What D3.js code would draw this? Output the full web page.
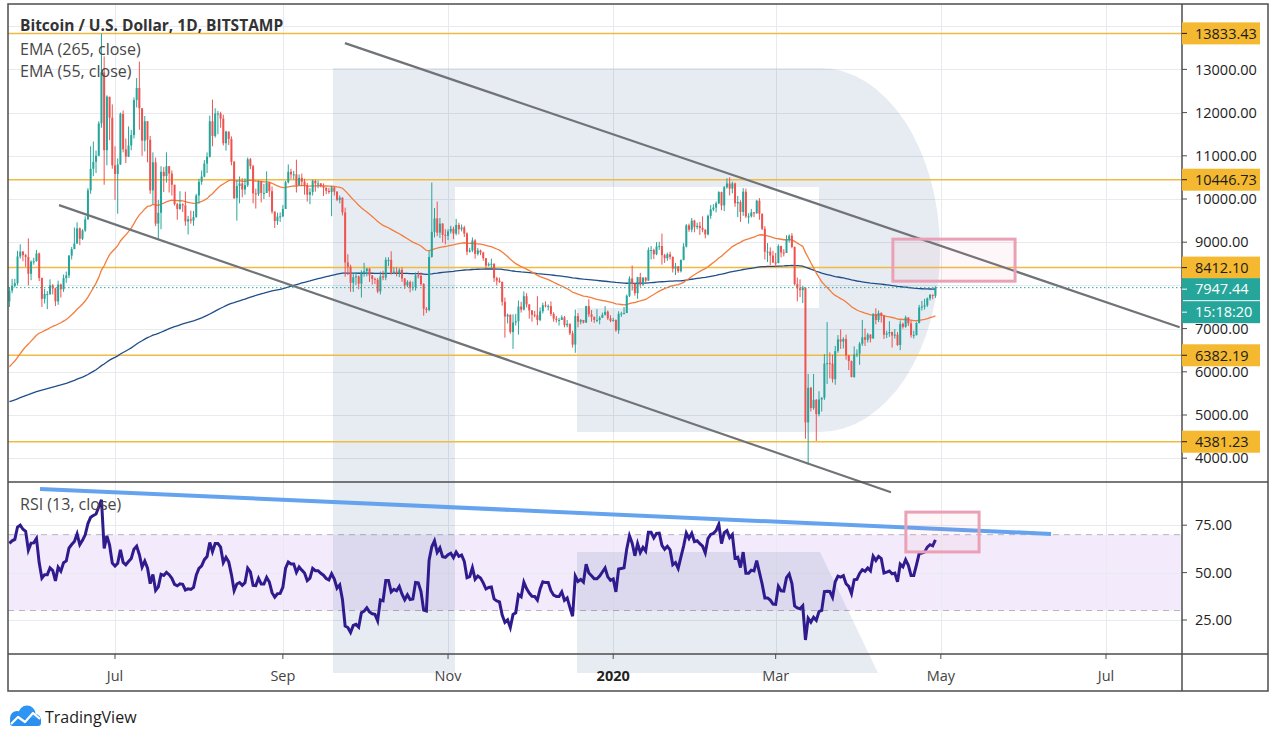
<!DOCTYPE html>
<html><head><meta charset="utf-8">
<script src="https://cdn.jsdelivr.net/npm/d3@7"></script>
<style>
body{margin:0;background:#fff;}
svg{display:block;}
text{font-family:"Open Sans","Noto Sans",sans-serif;}
</style>
</head><body>
<svg id="c" width="1277" height="740"></svg>
<script>
// ---------------- DATA ----------------
const startDate = "2019-05-23";   // first daily candle
const prevClose = 7630;           // close of the day before the first candle
const closes = [
 7880,7990,8050,8670,8780,8700,8660,8270,8550,
 8560,8740,8170,7690,7800,7800,8000,7930,7630,8020,7910,8170,8230,8690,8840,8970,9320,9080,9270,9530,10200,10700,10860,11000,11750,12930,11130,12370,11880,10780,
 10580,10800,11970,11150,10980,11240,11480,12290,12570,12100,11350,11800,11370,10200,10850,9430,9680,10630,10530,10760,10590,10330,9880,9770,9880,9850,9480,9530,9500,9580,10080,
 10400,10520,10820,10980,11800,11460,11980,11980,11860,11290,11560,11390,10860,10020,10300,10360,10220,10320,10920,10760,10130,10120,10400,10140,10140,10370,10180,9710,9490,9590,9600,
 9770,10390,10630,10570,10570,10320,10490,10400,10320,10100,10160,10420,10360,10360,10300,10260,10190,10160,10270,10170,9980,10030,9690,8530,8430,8060,8190,8210,8040,8300,
 8330,8390,8230,8150,8130,7860,8210,8180,8590,8590,8270,8320,8280,8360,8160,8000,8080,7950,7960,8230,8220,8030,7460,7430,8660,9240,9550,9220,9430,9170,9150,
 9250,9310,9200,9400,9300,9340,9200,8780,8810,9040,8730,8810,8760,8630,8460,8490,8500,8170,8110,8080,7620,7280,7320,6920,7140,7170,7510,7440,7750,7560,
 7420,7320,7310,7200,7400,7540,7520,7520,7340,7230,7200,7200,7260,7080,7110,6890,6630,7290,7160,7200,7140,7520,7330,7270,7200,7200,7250,7320,7390,7240,7180,
 7200,6960,7340,7350,7360,7760,8160,8040,7820,8190,8020,8180,8110,8820,8820,8720,8900,8910,8700,8630,8720,8660,8390,8440,8330,8590,8900,9390,9290,9500,9350,
 9380,9330,9290,9180,9610,9760,9800,9900,10160,9850,10270,10360,10240,10360,9900,9930,9700,10170,9600,9600,9690,9670,9960,9660,9310,8780,8780,8690,8530,
 8520,8910,8760,8750,9060,9150,8890,8030,7930,7890,7950,4830,5630,5160,5350,5020,5360,5400,6190,6200,6190,5830,6480,6750,6700,6760,6380,6250,5880,6400,6420,
 6650,6800,6740,6860,6770,7330,7200,7360,7300,6860,6890,6920,6840,6860,6620,7110,7040,7260,7120,6850,6850,7130,7490,7510,7540,7700,7780,7760,7947.44
];
const highs = [
 7960,8150,8150,8800,8950,8800,8730,9090,8580,
 8640,8820,8760,8180,7920,7870,8140,8030,7950,8110,8040,8250,8320,8700,8890,9340,9460,9340,9300,9600,10250,11220,11330,11120,11800,13833,13300,12400,12360,12190,
 11220,10940,12000,12050,11400,11680,11600,12350,12800,13180,12100,11920,11800,11460,11080,10960,9980,10760,10740,11080,10760,10660,10330,9910,10180,9900,10170,9610,9730,9720,10120,
 10470,10660,10900,11080,11930,12300,12100,12040,12020,11950,11580,11560,11450,10880,10430,10520,10480,10480,10960,10950,10790,10240,10430,10420,10350,10640,10390,10290,9710,9680,9690,
 9860,10420,10800,10700,10650,10910,10570,10590,10470,10370,10250,10450,10450,10430,10370,10360,10270,10260,10300,10280,10180,10080,10040,9800,8720,8480,8270,8310,8230,8350,
 8520,8400,8400,8240,8180,8170,8320,8340,8650,8650,8790,8420,8420,8400,8420,8170,8120,8110,8090,8300,8330,8300,8050,7500,8800,10380,9790,9940,9560,9440,9300,
 9300,9380,9360,9540,9450,9410,9380,9230,8870,9110,9070,8870,8830,8780,8630,8530,8620,8510,8200,8180,8090,7720,7350,7330,7330,7340,7650,7620,7860,7820,
 7560,7430,7410,7750,7490,7600,7630,7560,7630,7380,7290,7250,7310,7290,7200,7120,6950,7440,7360,7220,7200,7530,7680,7430,7280,7450,7290,7370,7520,7420,7310,
 7250,7210,7400,7390,7500,7790,8210,8460,8050,8200,8290,8190,8190,8880,8910,8850,9000,9010,9200,8730,8760,8780,8670,8520,8450,8600,8980,9420,9430,9560,9520,
 9450,9470,9600,9300,9640,9860,9880,9940,10180,10170,10300,10480,10500,10400,10380,10070,9970,10250,10240,9670,9770,9700,9980,10020,9660,9370,8980,8880,8800,
 8750,8950,8920,8840,9160,9180,9210,8900,8180,8140,7990,7950,5950,5650,5950,5370,5550,5410,6410,7150,6450,6400,6600,6850,6980,6800,6860,6390,6260,6590,6520,
 6690,7200,7000,6900,6870,7360,7470,7420,7380,7300,6950,7170,6930,6990,6920,7190,7140,7300,7260,7190,6950,7150,7550,7640,7690,7720,7800,7790,7980
];
const lows = [
 7500,7820,7950,8000,8620,8560,8430,8000,8120,
 8480,8550,8100,7500,7580,7450,7780,7790,7520,7550,7720,7850,8060,8170,8600,8840,8960,8930,9050,9240,9520,10120,10530,10600,10990,11650,10330,10780,11360,10700,
 9980,9660,10790,11080,10830,10970,11130,11400,12120,11600,11000,11100,10850,10120,9880,9370,9080,9300,10160,10380,10150,10080,9850,9520,9750,9700,9380,9180,9430,9380,9570,
 9890,10330,10500,10600,10960,11220,11420,11500,11650,11240,11120,11250,10780,10000,9500,9900,10040,10100,10280,10690,9900,9780,10070,9920,10000,10140,10050,9660,9330,9400,9470,
 9580,9770,10360,10460,10450,10150,10320,10300,10100,9940,9880,10080,10170,10250,10270,10070,10110,10120,9600,10080,9950,9900,9620,8200,8240,7850,7850,8010,7910,7720,
 8200,8210,8080,8020,8030,7820,7790,8120,8120,8450,8250,8260,8210,8190,8080,7920,7960,7840,7880,7880,8160,7990,7300,7360,7400,8640,9110,9140,9100,8990,8950,
 9050,9200,9070,9160,9180,9250,9120,8700,8760,8770,8620,8690,8700,8570,8390,8440,8390,8080,8000,8060,7530,6790,7120,6880,6530,7070,6860,7370,7420,7490,
 7230,7160,7260,7080,7170,7350,7490,7420,7290,7160,7140,7070,7200,7030,7030,6850,6560,6440,7030,7100,7120,7130,7270,7160,7130,7150,7100,7250,7300,7200,7150,
 7160,6930,6880,7270,7330,7360,7730,7880,7760,7690,7970,7990,8060,8110,8600,8610,8700,8820,8480,8520,8570,8600,8300,8240,8290,8300,8580,8880,9240,9230,9230,
 9300,9170,9230,9090,9160,9540,9720,9690,9880,9740,9720,10240,10080,10130,9820,9580,9470,9610,9560,9430,9570,9580,9660,9520,9280,8600,8540,8470,8520,
 8420,8510,8650,8670,8750,8990,8860,8000,7630,7730,7590,4450,3850,5080,5120,4400,4970,5080,5350,5720,5850,5750,5700,6440,6530,6540,6280,6040,5870,5860,6340,
 6160,6600,6600,6680,6680,6770,7100,7150,7140,6760,6780,6810,6560,6770,6600,6500,7000,7020,7060,6790,6770,6840,7120,7420,7440,7500,7650,7680,7710
];
// indicator seeds (values of the indicators just before the first visible candle)
const ema265Seed = 5290;
const ema55Seed = 6050;
const rsiSeedGain = 140, rsiSeedLoss = 85;

const priceTicks = [4000,5000,6000,7000,8000,9000,10000,11000,12000,13000,14000];
const priceTickLabels = ["4000.00","5000.00","6000.00","7000.00","","9000.00","10000.00","11000.00","12000.00","13000.00",""]; // 8000/14000 hidden under price tags
const rsiTicks = [25,50,75];
const timeTicks = [["2019-07-01","Jul"],["2019-09-01","Sep"],["2019-11-01","Nov"],["2020-01-01","2020"],["2020-03-01","Mar"],["2020-05-01","May"],["2020-07-01","Jul"]];
const levels = [13833.43, 10446.73, 8412.10, 6382.19, 4381.23];
const lastPrice = 7947.44;
const countdown = "15:18:20";
const channel = [
  {d1:"2019-06-10T08:00", p1:9858,  d2:"2020-04-12T14:00", p2:3213},
  {d1:"2019-09-23T22:00", p1:13609, d2:"2020-07-28T05:00", p2:7033}
];
const priceZone = {d1:"2020-04-13T07:00", d2:"2020-05-28T10:00", p1:9071, p2:8098};
const rsiTrend = {d1:"2019-06-03T07:00", v1:94.1, d2:"2020-06-10T17:00", v2:70.4};
const rsiZone = {d1:"2020-04-18T02:00", d2:"2020-05-15T03:00", v1:81.9, v2:60.9};

// ---------------- SCALES ----------------
const W = 1277, H = 740;
const L = 8, R = 1182, AX = 1268, TOP = 4, PB = 482, RB = 654, BOT = 691;
const x = d3.scaleUtc().domain([new Date(Date.UTC(2019,6,1)), new Date(Date.UTC(2020,6,1))]).range([115, 1106]);
const y = d3.scaleLinear().domain([4000, 13000]).range([458.2, 69.4]);
const yr = d3.scaleLinear().domain([0, 100]).range([667.4, 477.8]);
const pd = s => new Date(s.length > 10 ? s + "Z" : s + "T00:00Z");

const t0 = pd(startDate);
const bars = closes.map((c, i) => ({
  d: d3.utcDay.offset(t0, i),
  o: i === 0 ? prevClose : closes[i-1],
  c: c, h: highs[i], l: lows[i]
}));
// indicators
function ema(seed, n){ const a = 2/(n+1); let e = seed; return closes.map(c => (e = a*c + (1-a)*e)); }
const e265 = ema(ema265Seed, 265), e55 = ema(ema55Seed, 55);
let ag = rsiSeedGain, al = rsiSeedLoss;
const rsi = closes.map((c, i) => {
  const ch = c - (i === 0 ? prevClose : closes[i-1]);
  ag = (ag*12 + Math.max(ch,0))/13; al = (al*12 + Math.max(-ch,0))/13;
  return al === 0 ? 100 : 100 - 100/(1 + ag/al);
});

// ---------------- DRAW ----------------
const svg = d3.select("#c");
svg.append("rect").attr("width", W).attr("height", H).attr("fill", "#fff");
const defs = svg.append("defs");
defs.append("clipPath").attr("id","cp").append("rect").attr("x",L).attr("y",TOP).attr("width",R-L).attr("height",PB-TOP);
defs.append("clipPath").attr("id","cr").append("rect").attr("x",L).attr("y",PB).attr("width",R-L).attr("height",RB-PB);

// RSI band
svg.append("rect").attr("x",L).attr("width",R-L).attr("y",yr(70)).attr("height",yr(30)-yr(70)).attr("fill","rgba(160,90,225,0.12)");

// grid
const g = svg.append("g").attr("stroke","#e7eaef").attr("stroke-width",1);
priceTicks.forEach(p => g.append("line").attr("x1",L).attr("x2",R).attr("y1",Math.round(y(p))+0.5).attr("y2",Math.round(y(p))+0.5));
rsiTicks.forEach(v => g.append("line").attr("x1",L).attr("x2",R).attr("y1",Math.round(yr(v))+0.5).attr("y2",Math.round(yr(v))+0.5));
timeTicks.forEach(t => g.append("line").attr("x1",Math.round(x(pd(t[0])))+0.5).attr("x2",Math.round(x(pd(t[0])))+0.5).attr("y1",TOP).attr("y2",RB));

// RSI dashed bounds
[70,30].forEach(v => svg.append("line").attr("x1",L).attr("x2",R).attr("y1",yr(v)).attr("y2",yr(v))
  .attr("stroke","#b9b3c2").attr("stroke-width",1).attr("stroke-dasharray","6,5"));

// watermark logo (R)
const wm = svg.append("g").attr("fill","rgba(40,70,140,0.11)");
wm.append("path").attr("d","M333,68 H820 A120,182 0 0 1 820,432 H577 V308 H819 V187 H455 V673 H333 Z");
wm.append("path").attr("d","M577,552 H820 L878,673 H577 Z");

// horizontal levels
levels.forEach(p => svg.append("line").attr("x1",L).attr("x2",R+6).attr("y1",y(p)).attr("y2",y(p))
  .attr("stroke","#f0bb42").attr("stroke-width",1.5));

// EMAs
const pane = svg.append("g").attr("clip-path","url(#cp)");
const lineP = d3.line().x(d => x(d[0])).y(d => y(d[1]));
pane.append("path").attr("d", lineP(bars.map((b,i)=>[b.d, e265[i]]))).attr("fill","none").attr("stroke","#1f4e89").attr("stroke-width",1.3);
pane.append("path").attr("d", lineP(bars.map((b,i)=>[b.d, e55[i]]))).attr("fill","none").attr("stroke","#f47d3b").attr("stroke-width",1.3);

// candles
const cg = pane.append("g");
bars.forEach(b => {
  const cx = x(b.d), up = b.c >= b.o, col = up ? "#26a69a" : "#ef5350";
  cg.append("line").attr("x1",cx).attr("x2",cx).attr("y1",y(b.h)).attr("y2",y(b.l)).attr("stroke",col).attr("stroke-width",1);
  const yt = y(Math.max(b.o,b.c)), yb = y(Math.min(b.o,b.c));
  cg.append("rect").attr("x",cx-1).attr("width",2).attr("y",yt).attr("height",Math.max(1,yb-yt)).attr("fill",col);
});

// last price dotted line
svg.append("line").attr("x1",L).attr("x2",R).attr("y1",y(lastPrice)).attr("y2",y(lastPrice))
  .attr("stroke","#26a69a").attr("stroke-width",1).attr("stroke-dasharray","1.5,2.5");

// channel lines
channel.forEach(c => svg.append("line").attr("x1",x(pd(c.d1))).attr("y1",y(c.p1)).attr("x2",x(pd(c.d2))).attr("y2",y(c.p2))
  .attr("stroke","#707377").attr("stroke-width",2.2));

// zones
svg.append("rect").attr("x",x(pd(priceZone.d1))).attr("y",y(priceZone.p1)).attr("width",x(pd(priceZone.d2))-x(pd(priceZone.d1)))
  .attr("height",y(priceZone.p2)-y(priceZone.p1)).attr("fill","rgba(240,120,160,0.06)").attr("stroke","#eaa1b6").attr("stroke-width",3);

// RSI line
const rp = svg.append("g").attr("clip-path","url(#cr)");
rp.append("path").attr("d", d3.line().x((d,i)=>x(bars[i].d)).y(d=>yr(d))(rsi)).attr("fill","none")
  .attr("stroke","#2f1b8e").attr("stroke-width",3).attr("stroke-linejoin","miter");
// RSI trend line
svg.append("line").attr("x1",x(pd(rsiTrend.d1))).attr("y1",yr(rsiTrend.v1)).attr("x2",x(pd(rsiTrend.d2))).attr("y2",yr(rsiTrend.v2))
  .attr("stroke","#66a3ef").attr("stroke-width",4);
svg.append("rect").attr("x",x(pd(rsiZone.d1))).attr("y",yr(rsiZone.v1)).attr("width",x(pd(rsiZone.d2))-x(pd(rsiZone.d1)))
  .attr("height",yr(rsiZone.v2)-yr(rsiZone.v1)).attr("fill","rgba(240,120,160,0.06)").attr("stroke","#eaa1b6").attr("stroke-width",3);

// frames
const fr = svg.append("g").attr("stroke","#4d4d4d").attr("stroke-width",1.5).attr("fill","none");
fr.append("rect").attr("x",L).attr("y",TOP).attr("width",AX-L).attr("height",BOT-TOP);
fr.append("line").attr("x1",R).attr("x2",R).attr("y1",TOP).attr("y2",BOT);
fr.append("line").attr("x1",L).attr("x2",AX).attr("y1",PB).attr("y2",PB);
fr.append("line").attr("x1",L).attr("x2",AX).attr("y1",RB).attr("y2",RB);

// price axis
const FS = 14.5;
const ax = svg.append("g");
priceTicks.forEach((p, i) => {
  ax.append("line").attr("x1",R).attr("x2",R+5).attr("y1",y(p)).attr("y2",y(p)).attr("stroke","#4d4d4d");
  if (priceTickLabels[i]) ax.append("text").attr("x",R+13).attr("y",y(p)).attr("dy","0.36em").attr("font-size",FS).attr("fill","#222").text(priceTickLabels[i]);
});
rsiTicks.forEach(v => {
  ax.append("line").attr("x1",R).attr("x2",R+5).attr("y1",yr(v)).attr("y2",yr(v)).attr("stroke","#4d4d4d");
  ax.append("text").attr("x",R+13).attr("y",yr(v)).attr("dy","0.36em").attr("font-size",FS).attr("fill","#222").text(d3.format(".2f")(v));
});
function box(yc, txt, bg, fg){
  ax.append("rect").attr("x",R).attr("y",yc-11).attr("width",78).attr("height",22).attr("fill",bg);
  ax.append("line").attr("x1",R).attr("x2",R+5).attr("y1",yc).attr("y2",yc).attr("stroke",fg);
  ax.append("text").attr("x",R+13).attr("y",yc).attr("dy","0.36em").attr("font-size",FS).attr("fill",fg).text(txt);
}
levels.forEach(p => box(y(p), d3.format(".2f")(p), "#f4b930", "#1c1c1c"));
box(y(lastPrice)+1.5, d3.format(".2f")(lastPrice), "#26a69a", "#fff");
box(y(lastPrice)+24.5, countdown, "#26a69a", "#fff");

// time axis
timeTicks.forEach(t => {
  const tx = x(pd(t[0]));
  ax.append("line").attr("x1",tx).attr("x2",tx).attr("y1",RB).attr("y2",RB+5).attr("stroke","#4d4d4d");
  ax.append("text").attr("x",tx).attr("y",681).attr("text-anchor","middle").attr("font-size",FS)
    .attr("font-weight", t[1]==="2020" ? 700 : 400).attr("fill", t[1]==="2020" ? "#222" : "#444").text(t[1]);
});

// legends
svg.append("text").attr("x",20).attr("y",31).attr("font-size",15.5).attr("font-weight",700).attr("fill","#333").text("Bitcoin / U.S. Dollar, 1D, BITSTAMP");
svg.append("text").attr("x",20).attr("y",54.5).attr("font-size",16).attr("fill","#474747").text("EMA (265, close)");
svg.append("text").attr("x",20).attr("y",77).attr("font-size",16).attr("fill","#474747").text("EMA (55, close)");
svg.append("text").attr("x",20).attr("y",509.5).attr("font-size",16).attr("fill","#474747").text("RSI (13, close)");

// TradingView logo
const lg = svg.append("g");
lg.append("circle").attr("cx",17).attr("cy",718).attr("r",7).attr("fill","#2b8ff0");
lg.append("circle").attr("cx",27).attr("cy",714).attr("r",8.5).attr("fill","#2f95f2");
lg.append("circle").attr("cx",35).attr("cy",720).attr("r",6).attr("fill","#3a9df3");
lg.append("rect").attr("x",10).attr("y",718).attr("width",31).attr("height",8).attr("rx",3).attr("fill","#2b8ff0");
lg.append("polyline").attr("points","11,724 18,717 25,722 33,713 40,719").attr("fill","none").attr("stroke","#fff").attr("stroke-width",2.2).attr("stroke-linejoin","round");
svg.append("text").attr("x",45).attr("y",722.5).attr("font-size",16).attr("fill","#1c1c1c").text("TradingView");
</script>
</body></html>
